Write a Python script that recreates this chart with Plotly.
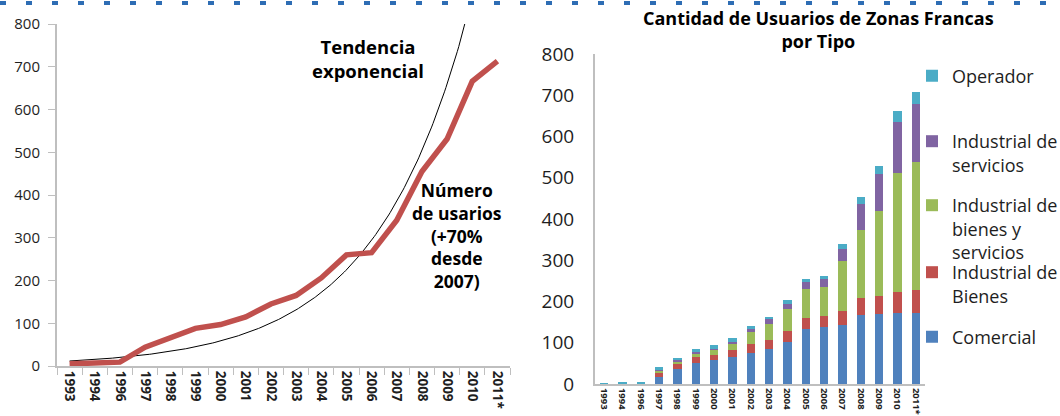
import numpy as np
import plotly.graph_objects as go

# ---------------- data ----------------
years = ["1993", "1994", "1996", "1997", "1998", "1999", "2000", "2001", "2002",
         "2003", "2004", "2005", "2006", "2007", "2008", "2009", "2010", "2011*"]

# left chart: number of users (red line)
usuarios = [5, 7, 9, 44, 66, 88, 97, 115, 145, 165, 206, 260, 265, 341, 455, 531, 666, 713]

# right chart: users by type (stacked)
comercial = [0, 0, 0, 18, 36, 50, 57, 65, 74, 84, 103, 133, 137, 142, 167, 169, 171, 173]
ind_bienes = [0, 0, 0, 11, 12, 15, 13, 17, 23, 23, 25, 27, 27, 35, 42, 44, 52, 55]
ind_bienes_serv = [0, 0, 0, 3, 6, 9, 13, 17, 30, 39, 54, 70, 70, 120, 164, 207, 288, 311]
ind_servicios = [0, 0, 0, 2, 3, 3, 2, 4, 6, 11, 12, 17, 20, 30, 63, 88, 125, 141]
operador = [2, 5, 6, 8, 5, 7, 10, 9, 8, 6, 9, 8, 8, 12, 18, 21, 26, 29]

left_ticks = [0, 100, 200, 300, 400, 500, 600, 700, 800]
right_ticks = [0, 100, 200, 300, 400, 500, 600, 700, 800]

# ---------------- styling ----------------
W, H = 1060, 416
FONT = "Open Sans"
AXIS_GRAY = "#BFBFBF"
TXT = "#1E1E1E"

C_COM = "#4F81BD"
C_BIE = "#C0504D"
C_BYS = "#9BBB59"
C_SER = "#8064A2"
C_OPE = "#4BACC6"


def px_x(p):
    return p / W


def px_y(p):
    return 1 - p / H


fig = go.Figure()

# exponential trend (least squares fit of ln(y) on index, like a spreadsheet trendline)
idx = np.arange(len(usuarios))
b, a = np.polyfit(idx, np.log(np.array(usuarios, dtype=float)), 1)
xt = np.linspace(0, len(usuarios) - 1, 300)
yt = np.exp(a + b * xt)

fig.add_trace(go.Scatter(
    x=xt, y=yt, mode="lines", line=dict(color="#000000", width=1),
    xaxis="x", yaxis="y", showlegend=False, hoverinfo="skip"))

fig.add_trace(go.Scatter(
    x=idx, y=usuarios, mode="lines", line=dict(color=C_BIE, width=5.5),
    xaxis="x", yaxis="y", showlegend=False, name="Número de usuarios"))

# stacked bars, each with its own legend box (positions as in the reference)
series = [
    ("Comercial", comercial, C_COM, "legend5", 337),
    ("Industrial de<br>Bienes", ind_bienes, C_BIE, "legend4", 284),
    ("Industrial de<br>bienes y<br>servicios", ind_bienes_serv, C_BYS, "legend3", 229),
    ("Industrial de<br>servicios", ind_servicios, C_SER, "legend2", 153),
    ("Operador", operador, C_OPE, "legend", 76),
]
legend_layout = {}
for name, vals, col, lg, yc in series:
    fig.add_trace(go.Bar(
        x=years, y=vals, name=name, marker=dict(color=col, line=dict(width=0)),
        xaxis="x2", yaxis="y2", legend=lg, showlegend=True))
    legend_layout[lg] = dict(
        x=px_x(912), y=px_y(yc), xanchor="left", yanchor="middle",
        valign="top", font=dict(family=FONT, size=18, color=TXT),
        itemclick=False, itemdoubleclick=False,
        bgcolor="rgba(0,0,0,0)", borderwidth=0,
    )

fig.update_layout(
    width=W, height=H,
    margin=dict(l=0, r=0, t=0, b=0, autoexpand=False),
    paper_bgcolor="white", plot_bgcolor="white",
    font=dict(family=FONT, color=TXT),
    barmode="stack", bargap=0.56,
    showlegend=True,
    **legend_layout,
    xaxis=dict(
        domain=[px_x(57), px_x(510)], range=[-0.5, 17.5], automargin=False,
        tickmode="array", tickvals=list(range(len(years))), ticktext=years,
        tickangle=90, ticks="", showgrid=False, zeroline=False,
        showline=True, linecolor=AXIS_GRAY, linewidth=2,
        tickfont=dict(family=FONT, size=13.5, color=TXT, weight="bold"),
        minor=dict(ticks="outside", tick0=-0.5, dtick=1, ticklen=7,
                   tickcolor=AXIS_GRAY, tickwidth=1, showgrid=False),
        anchor="y",
    ),
    yaxis=dict(
        domain=[1 - 366 / H, 1 - 24 / H], range=[0, 800], automargin=False,
        tickmode="array", tickvals=left_ticks,
        ticks="outside", ticklen=7, tickcolor=AXIS_GRAY, tickwidth=1,
        showgrid=False, zeroline=False,
        showline=True, linecolor=AXIS_GRAY, linewidth=2,
        tickfont=dict(family=FONT, size=15, color=TXT),
        ticklabelstandoff=5,
        anchor="x",
    ),
    xaxis2=dict(
        domain=[px_x(595), px_x(925)], range=[-0.5, 17.5], automargin=False,
        type="category", tickangle=90, ticks="", showgrid=False, zeroline=False,
        showline=True, linecolor=AXIS_GRAY, linewidth=2,
        tickfont=dict(family=FONT, size=9.5, color=TXT, weight="bold"),
        anchor="y2",
    ),
    yaxis2=dict(
        domain=[1 - 384 / H, 1 - 54 / H], range=[0, 800], automargin=False,
        tickmode="array", tickvals=right_ticks,
        ticks="", showgrid=False, zeroline=False,
        showline=True, linecolor=AXIS_GRAY, linewidth=2,
        tickfont=dict(family=FONT, size=19, color=TXT),
        ticklabelstandoff=15,
        anchor="x2",
    ),
    annotations=[
        dict(text="<b>Cantidad de Usuarios de Zonas Francas<br>por Tipo</b>",
             x=px_x(818), y=px_y(29.5), xref="paper", yref="paper",
             xanchor="center", yanchor="middle", showarrow=False,
             font=dict(family=FONT, size=18, color="#000000")),
        dict(text="<b>Tendencia<br>exponencial</b>",
             x=px_x(368), y=px_y(58.5), xref="paper", yref="paper",
             xanchor="center", yanchor="middle", showarrow=False,
             font=dict(family=FONT, size=18.5, color="#000000")),
        dict(text="<b>Número<br>de usarios<br>(+70%<br>desde<br>2007)</b>",
             x=px_x(457), y=px_y(235), xref="paper", yref="paper",
             xanchor="center", yanchor="middle", showarrow=False,
             font=dict(family=FONT, size=17.5, color="#000000")),
    ],
    shapes=[
        dict(type="line", xref="paper", yref="paper", layer="above",
             x0=0, x1=1, y0=px_y(3), y1=px_y(3),
             line=dict(color="#2E6DB4", width=4, dash="6px,20px")),
    ],
)

fig.write_html(
    "out.html",
    config={"displayModeBar": False},
    post_script="document.body.style.margin='0';document.body.style.overflow='hidden';",
)
